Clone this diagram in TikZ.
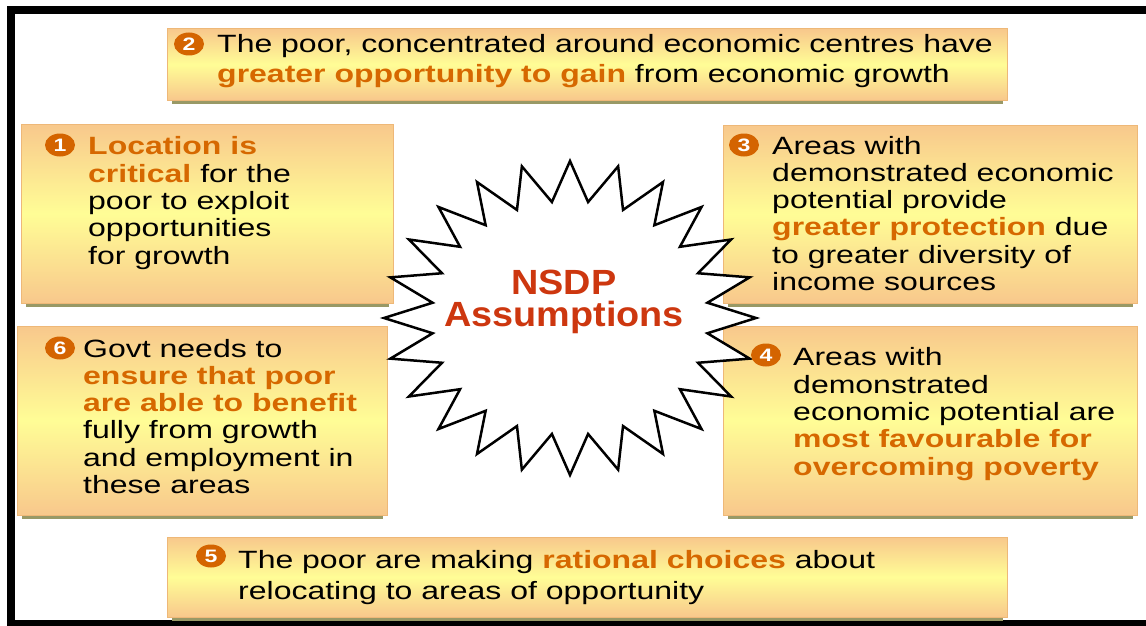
\documentclass[tikz,border=0pt]{standalone}
\usepackage{fontspec}
\setmainfont{Liberation Sans}[FakeStretch=1.28]
\newfontfamily\titlefont{Liberation Sans}[FakeStretch=1.08]
\usepackage{xcolor}
\usepackage{tikz}
\usetikzlibrary{shapes.geometric,positioning}

\definecolor{boxedge}{RGB}{248,200,140}
\definecolor{boxmid}{RGB}{255,253,150}
\definecolor{boxline}{RGB}{238,184,120}
\definecolor{shadowolive}{RGB}{153,153,102}
\definecolor{keyorange}{RGB}{214,104,0}
\definecolor{badgeorange}{RGB}{212,100,0}
\definecolor{titlered}{RGB}{205,55,15}

\newcommand{\keyph}[1]{{\bfseries\color{keyorange}#1}}

\tikzset{
    nsdpbox/.style={draw=boxline, line width=1pt, top color=boxedge, bottom color=boxedge, middle color=boxmid},
    boxshadow/.style={fill=shadowolive},
    badge/.style={ellipse, fill=badgeorange, text=white, inner sep=0pt, minimum width=30pt, minimum height=23pt, font=\bfseries\fontsize{18}{18}\selectfont},
    pointtext/.style={anchor=base west, align=left, inner sep=0pt, font=\fontsize{25}{27.3}\selectfont},
    burst/.style={fill=white, draw=black, line width=2.5pt, line join=miter},
    frameline/.style={line width=8pt, line join=miter}
}

\begin{document}
\begin{tikzpicture}[x=1pt, y=-1pt]
    \useasboundingbox (0,0) rectangle (1146,626);
    \draw [frameline] (1150,10) -- (11,10) -- (11,624) -- (1150,624);

    % shadows under the boxes
    \fill [boxshadow] (172,100) rectangle (1003,104);
    \fill [boxshadow] (26,303) rectangle (389,307);
    \fill [boxshadow] (728,303) rectangle (1133,307);
    \fill [boxshadow] (22,515) rectangle (383,519);
    \fill [boxshadow] (728,515) rectangle (1133,519);
    \fill [boxshadow] (172,617) rectangle (1003,621);

    \draw [nsdpbox] (167,29) rectangle (1007,100);
    \draw [nsdpbox] (21,124) rectangle (393,303);
    \draw [nsdpbox] (723,125) rectangle (1137,303);
    \draw [nsdpbox] (17,326) rectangle (387,515);
    \draw [nsdpbox] (723,326) rectangle (1137,515);
    \draw [nsdpbox] (167,537) rectangle (1007,617);

    % the burst in the middle
    \filldraw [burst] (756,318) \foreach \k [evaluate=\k as \f using {1-0.255*mod(\k,2)}] in {1,...,47} { -- ({570+186*\f*cos(\k*7.5)}, {318-157*\f*sin(\k*7.5)}) } -- cycle;
    \node [align=center, text=titlered, font=\titlefont\bfseries\fontsize{35}{32}\selectfont] (title) at (564,302) {NSDP\\Assumptions};

    % texts sit on the baseline of their last line
    \node [badge] (num2) at (189,44) {2};
    \node [pointtext, font=\fontsize{25}{29}\selectfont] (txt2) at (217,82) {The poor, concentrated around economic centres have\\\keyph{greater opportunity to gain} from economic growth};

    \node [badge] (num1) at (60,145) {1};
    \node [pointtext] (txt1) at (88,264) {\keyph{Location is}\\\keyph{critical} for the\\poor to exploit\\opportunities\\for growth};

    \node [badge] (num3) at (744,145) {3};
    \node [pointtext] (txt3) at (772,290.5) {Areas with\\demonstrated economic\\potential provide\\\keyph{greater protection} due\\to greater diversity of\\income sources};

    \node [badge] (num6) at (60,348) {6};
    \node [pointtext] (txt6) at (83,493.5) {Govt needs to\\\keyph{ensure that poor}\\\keyph{are able to benefit}\\fully from growth\\and employment in\\these areas};

    \node [badge] (num4) at (766,355) {4};
    \node [pointtext] (txt4) at (793,475) {Areas with\\demonstrated\\economic potential are\\\keyph{most favourable for}\\\keyph{overcoming poverty}};

    \node [badge] (num5) at (211,556) {5};
    \node [pointtext, font=\fontsize{25}{31}\selectfont] (txt5) at (238,599) {The poor are making \keyph{rational choices} about\\relocating to areas of opportunity};
\end{tikzpicture}
\end{document}
